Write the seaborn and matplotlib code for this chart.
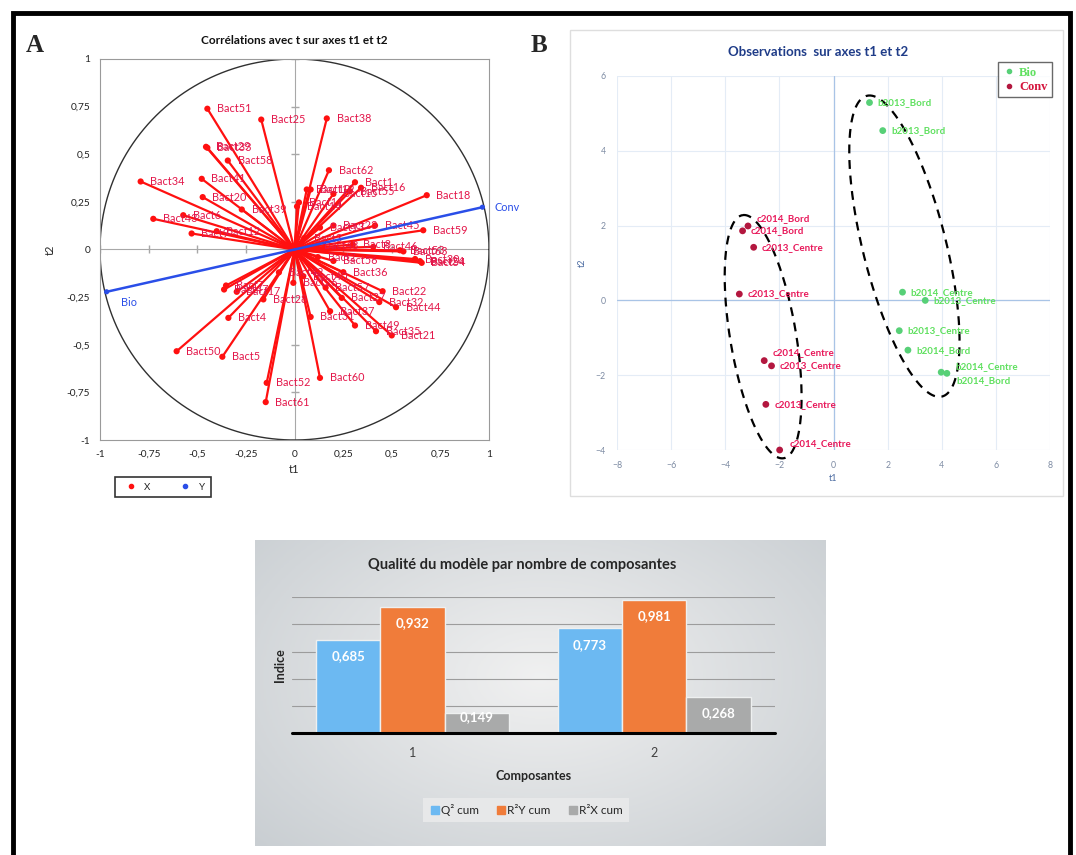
import numpy as np
import pandas as pd
import matplotlib
matplotlib.use("Agg")
import matplotlib.pyplot as plt
from matplotlib.patches import Rectangle
from matplotlib.lines import Line2D
from matplotlib.ticker import FuncFormatter, MultipleLocator
import seaborn as sns

# ---------- Panel A : correlations with t on t1 / t2 ----------
bact_labels = ["Bact51", "Bact25", "Bact29", "Bact33", "Bact58", "Bact34", "Bact41", "Bact20",
               "Bact39", "Bact6", "Bact43", "Bact9", "Bact12", "Bact38", "Bact62", "Bact1",
               "Bact16", "Bact55", "Bact18", "Bact59", "Bact45", "Bact15", "Bact10", "Bact19",
               "Bact11", "Bact14", "Bact23", "Bact13", "Bact8", "Bact46", "Bact53", "Bact63",
               "Bact54", "Bact24", "Bact30", "Bact36", "Bact22", "Bact27", "Bact32", "Bact44",
               "Bact37", "Bact31", "Bact49", "Bact35", "Bact21", "Bact28", "Bact26", "Bact40",
               "Bact60", "Bact52", "Bact61", "Bact50", "Bact5", "Bact4", "Bact7", "Bact47",
               "Bact17", "Bact2", "Bact3", "Bact42", "Bact48", "Bact56", "Bact57"]
bact_t1 = [-0.448, -0.171, -0.455, -0.448, -0.343, -0.791, -0.477, -0.472,
           -0.271, -0.572, -0.726, -0.529, -0.400, 0.166, 0.177, 0.311,
           0.342, 0.285, 0.680, 0.662, 0.414, 0.200, 0.063, 0.083,
           0.023, 0.013, 0.200, 0.131, 0.300, 0.405, 0.542, 0.560,
           0.654, 0.645, 0.620, 0.251, 0.453, 0.243, 0.436, 0.522,
           0.183, 0.083, 0.311, 0.419, 0.500, -0.160, -0.006, 0.045,
           0.131, -0.143, -0.148, -0.606, -0.371, -0.340, -0.352, -0.362,
           -0.297, 0.120, 0.050, -0.080, 0.100, 0.200, 0.160]
bact_t2 = [0.739, 0.682, 0.539, 0.534, 0.467, 0.357, 0.371, 0.275,
           0.210, 0.180, 0.161, 0.084, 0.096, 0.688, 0.416, 0.353,
           0.324, 0.306, 0.285, 0.101, 0.126, 0.292, 0.315, 0.315,
           0.247, 0.226, 0.126, 0.115, 0.026, 0.014, -0.004, -0.010,
           -0.070, -0.061, -0.050, -0.119, -0.219, -0.254, -0.276, -0.303,
           -0.324, -0.354, -0.399, -0.429, -0.451, -0.262, -0.175, -0.140,
           -0.674, -0.700, -0.801, -0.534, -0.563, -0.359, -0.189, -0.210,
           -0.222, -0.040, 0.060, -0.120, 0.020, -0.060, -0.200]
y_labels = ["Bio", "Conv"]
y_t1 = [-0.966, 0.966]
y_t2 = [-0.222, 0.222]

# ---------- Panel B : observations on t1 / t2 ----------
obs_labels = ["b2013_Bord", "b2013_Bord", "b2014_Centre", "b2013_Centre", "b2013_Centre",
              "b2014_Bord", "b2014_Centre", "b2014_Bord",
              "c2014_Bord", "c2014_Bord", "c2013_Centre", "c2013_Centre", "c2014_Centre",
              "c2013_Centre", "c2013_Centre", "c2014_Centre"]
obs_group = ["Bio"] * 8 + ["Conv"] * 8
obs_t1 = [1.33, 1.82, 2.55, 3.39, 2.43, 2.75, 3.98, 4.19,
          -3.16, -3.36, -2.95, -3.48, -2.56, -2.29, -2.50, -1.99]
obs_t2 = [5.29, 4.54, 0.22, 0.00, -0.81, -1.33, -1.92, -1.95,
          1.99, 1.86, 1.42, 0.17, -1.61, -1.75, -2.78, -4.00]
# label offsets in points (dx, dy)
obs_offsets = [(6, 0), (6, 0), (6, 0), (6, 0), (6, 0), (6, 0), (10, 4), (7, -5),
               (6, 5), (6, 0), (6, 0), (6, 0), (6, 6), (6, 0), (6, 0), (7, 5)]
# dashed group ellipses: centre, half major axis, half minor axis
ell_conv = [(-2.60, -0.97), (-0.76, 3.25), (1.20, 0.15)]
ell_bio = [(2.62, 1.45), (-1.39, 4.02), (1.49, 0.27)]

# ---------- Panel C : model quality ----------
composantes = ["1", "2"]
series_names = ["Q² cum", "R²Y cum", "R²X cum"]
q2_cum = [0.685, 0.773]
r2y_cum = [0.932, 0.981]
r2x_cum = [0.149, 0.268]

W, H = 1076, 855
sns.set_theme(style="white")
plt.rcParams["font.family"] = ["Lato", "DejaVu Sans"]

fig = plt.figure(figsize=(W / 100, H / 100), dpi=100)
fig.patch.set_facecolor("white")

def fx(px):
    return px / W

def fy(py):
    return 1 - py / H

comma = FuncFormatter(lambda v, _: f"{v:g}".replace(".", ","))

# outer frame
fig.patches.append(Rectangle((fx(13), fy(880)), fx(1070) - fx(13), fy(13) - fy(880),
                             transform=fig.transFigure, fill=False, edgecolor="black",
                             linewidth=3.5, zorder=10))

# ================= Panel A =================
axA = fig.add_axes([fx(100), fy(440), fx(389), 381 / H])
axA.set_xlim(-1, 1)
axA.set_ylim(-1, 1)
theta = np.linspace(0, 2 * np.pi, 400)
axA.plot(np.cos(theta), np.sin(theta), color="#303030", lw=1.0, zorder=2)
axA.axhline(0, color="#a8a8a8", lw=0.8, zorder=1)
axA.axvline(0, color="#a8a8a8", lw=0.8, zorder=1)
tk = np.arange(-1, 1.01, 0.25)
axA.plot(tk, np.zeros_like(tk), ls="none", marker="|", ms=6, color="#a8a8a8", zorder=1)
axA.plot(np.zeros_like(tk), tk, ls="none", marker="_", ms=6, color="#a8a8a8", zorder=1)

for x, y in zip(bact_t1, bact_t2):
    axA.plot([0, x], [0, y], color="#ff1010", lw=1.6, zorder=3, solid_capstyle="round")
sns.scatterplot(x=bact_t1, y=bact_t2, color="#ff1010", s=20, edgecolor="none", ax=axA, zorder=4)
for lab, x, y in zip(bact_labels, bact_t1, bact_t2):
    axA.annotate(lab, (x, y), xytext=(7, 0), textcoords="offset points", va="center",
                 fontsize=7.8, color="#e3174a", zorder=5)

for x, y in zip(y_t1, y_t2):
    axA.plot([0, x], [0, y], color="#2a4ee8", lw=1.8, zorder=6)
sns.scatterplot(x=y_t1, y=y_t2, color="#2a4ee8", s=14, edgecolor="none", ax=axA, zorder=6)
axA.annotate(y_labels[0], (y_t1[0], y_t2[0]), xytext=(10, -8), textcoords="offset points",
             va="center", fontsize=7.8, color="#2a4ee8")
axA.annotate(y_labels[1], (y_t1[1], y_t2[1]), xytext=(9, 0), textcoords="offset points",
             va="center", fontsize=7.8, color="#2a4ee8")

axA.xaxis.set_major_locator(MultipleLocator(0.25))
axA.yaxis.set_major_locator(MultipleLocator(0.25))
axA.xaxis.set_major_formatter(comma)
axA.yaxis.set_major_formatter(comma)
axA.tick_params(length=0, labelsize=7.3, colors="#222222", pad=7)
for s in axA.spines.values():
    s.set_color("#9a9a9a")
    s.set_linewidth(0.8)
axA.set_xlabel("t1", fontsize=8, labelpad=4)
axA.set_ylabel("t2", fontsize=8, labelpad=8)

legA = [Line2D([], [], marker="o", color="#ff1010", ls="none", ms=3, label="X"),
        Line2D([], [], marker="o", color="#2a4ee8", ls="none", ms=3, label="Y")]
lgA = fig.legend(handles=legA, loc="center", bbox_to_anchor=(fx(163), fy(487)), ncol=2,
                 fontsize=7, frameon=True, fancybox=False, edgecolor="black",
                 handletextpad=0.4, columnspacing=2.6, borderpad=0.6)
lgA.get_frame().set_linewidth(1.2)

fig.text(fx(294), fy(40), "Corrélations avec t sur axes t1 et t2", ha="center", va="center",
         fontsize=8.5, fontweight="bold", color="#111111")
fig.text(fx(26), fy(45), "A", fontfamily="Liberation Serif", fontweight="bold", fontsize=18,
         va="center", ha="left")
fig.text(fx(531), fy(45), "B", fontfamily="Liberation Serif", fontweight="bold", fontsize=18,
         va="center", ha="left")

# ================= Panel B =================
fig.patches.append(Rectangle((fx(570), fy(496)), fx(493), 466 / H, transform=fig.transFigure,
                             fill=False, edgecolor="#dedede", linewidth=1))
axB = fig.add_axes([fx(617), fy(450), fx(433), 374 / H])
axB.set_xlim(-8, 8)
axB.set_ylim(-4, 6)
axB.xaxis.set_major_locator(MultipleLocator(2))
axB.yaxis.set_major_locator(MultipleLocator(2))
axB.grid(True, color="#e4ecf6", lw=0.8)
axB.axhline(0, color="#a9c4e6", lw=0.9, zorder=1)
axB.axvline(0, color="#a9c4e6", lw=0.9, zorder=1)
for s in axB.spines.values():
    s.set_visible(False)
axB.tick_params(length=0, labelsize=6.3, colors="#7d8ba3", pad=8)

df_obs = pd.DataFrame({"t1": obs_t1, "t2": obs_t2, "group": obs_group, "label": obs_labels})
pal_pts = {"Bio": "#57d077", "Conv": "#b3173f"}
pal_txt = {"Bio": "#5fe05f", "Conv": "#e8185a"}
sns.scatterplot(data=df_obs, x="t1", y="t2", hue="group", palette=pal_pts, s=24,
                edgecolor="none", legend=False, ax=axB, zorder=4, clip_on=False)
for (_, r), off in zip(df_obs.iterrows(), obs_offsets):
    axB.annotate(r["label"], (r["t1"], r["t2"]), xytext=off, textcoords="offset points",
                 va="center", fontsize=7, fontweight="bold", color=pal_txt[r["group"]], zorder=5)

tt = np.linspace(0, 2 * np.pi, 300)
for (c, a, b) in (ell_conv, ell_bio):
    ex = c[0] + a[0] * np.cos(tt) + b[0] * np.sin(tt)
    ey = c[1] + a[1] * np.cos(tt) + b[1] * np.sin(tt)
    axB.plot(ex, ey, color="black", lw=1.6, ls=(0, (4, 3)), zorder=3, clip_on=False)

axB.set_xlabel("t1", fontsize=6.5, color="#4a6aa0", labelpad=3)
axB.set_ylabel("t2", fontsize=6.5, color="#4a6aa0", labelpad=6)
fig.text(fx(818), fy(52), "Observations  sur axes t1 et t2", ha="center", va="center",
         fontsize=9.5, fontweight="bold", color="#1f3c88")

legB = [Line2D([], [], marker="o", color=pal_pts["Bio"], ls="none", ms=3, label="Bio"),
        Line2D([], [], marker="o", color=pal_pts["Conv"], ls="none", ms=3, label="Conv")]
lgB = fig.legend(handles=legB, loc="upper right", bbox_to_anchor=(fx(1058), fy(56)),
                 prop={"family": "Liberation Serif", "weight": "bold", "size": 9},
                 labelcolor=[pal_txt["Bio"], "#d4143c"], frameon=True, fancybox=False,
                 edgecolor="#444444", handletextpad=0.3, borderpad=0.35, labelspacing=0.2,
                 handlelength=1.0)
lgB.get_frame().set_linewidth(1.0)

# ================= Panel C =================
bg = fig.add_axes([fx(255), fy(846), fx(571), 306 / H], zorder=0)
gx, gy = np.meshgrid(np.linspace(-1, 1, 200), np.linspace(-1, 1, 200))
shade = np.sqrt(0.7 * gx ** 2 + 0.5 * (gy + 0.1) ** 2)
bg.imshow(shade, cmap=sns.light_palette("#c9ced2", as_cmap=True, reverse=False),
          aspect="auto", extent=(0, 1, 0, 1), vmin=0, vmax=1.15)
bg.set_axis_off()

df_c = pd.DataFrame({
    "Composantes": composantes * 3,
    "Série": [n for n in series_names for _ in composantes],
    "Indice": q2_cum + r2y_cum + r2x_cum,
})
axC = fig.add_axes([fx(291.7), fy(733), fx(483.3), 135.7 / H], zorder=1)
axC.patch.set_alpha(0)
sns.barplot(data=df_c, x="Composantes", y="Indice", hue="Série",
            palette=["#6cb9f2", "#f07c3a", "#a9aaaa"], width=0.8, saturation=1,
            edgecolor="#eef0f0", linewidth=1.0, ax=axC, legend=False)
axC.set_ylim(0, 1.0)
axC.set_xlim(-0.5, 1.5)
axC.set_yticks([0.2, 0.4, 0.6, 0.8, 1.0])
axC.yaxis.grid(True, color="#9c9c9c", lw=0.8)
axC.set_axisbelow(True)
axC.axhline(0, color="black", lw=2.2, zorder=5, clip_on=False)
for s in axC.spines.values():
    s.set_visible(False)
axC.tick_params(axis="y", length=0, labelleft=False)
axC.tick_params(axis="x", length=0, labelsize=9, colors="#404040", pad=10)
axC.set_ylabel("Indice", fontsize=9, fontweight="bold", color="#262626", labelpad=4)
axC.set_xlabel("Composantes", fontsize=9, fontweight="bold", color="#262626", labelpad=8)

px_per_unit = 135.7
for cont in axC.containers:
    for bar in cont:
        h = bar.get_height()
        off = -min(16.5, h * px_per_unit - 16)
        axC.annotate(f"{h:.3f}".replace(".", ","), (bar.get_x() + bar.get_width() / 2, h),
                     xytext=(0, off * 0.72), textcoords="offset points", ha="center",
                     va="center", fontsize=9.5, fontweight="bold", color="white", zorder=6)

fig.text(fx(522), fy(565), "Qualité du modèle par nombre de composantes", ha="center",
         va="center", fontsize=10.5, fontweight="bold", color="#262626")

legC = [Line2D([], [], marker="s", color=c, ls="none", ms=6, label=n)
        for c, n in zip(["#6cb9f2", "#f07c3a", "#a9aaaa"], series_names)]
lgC = fig.legend(handles=legC, loc="center", bbox_to_anchor=(fx(526), fy(810)), ncol=3,
                 fontsize=8.5, frameon=True, fancybox=False, facecolor="#e7e8e9",
                 edgecolor="none", framealpha=1, handletextpad=0.1, columnspacing=1.4,
                 handlelength=0.9, borderpad=0.5)

fig.savefig("out.png", dpi=100)
